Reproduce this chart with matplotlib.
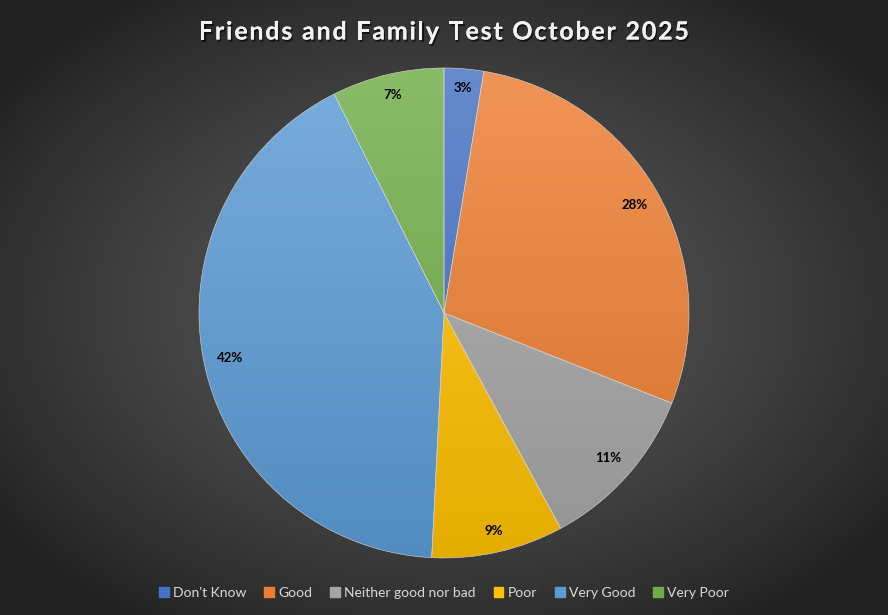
import numpy as np
import matplotlib
matplotlib.use('Agg')
import matplotlib.pyplot as plt
import matplotlib.patheffects as pe
from matplotlib.colors import to_rgb

labels = ["Don't Know", 'Good', 'Neither good nor bad', 'Poor', 'Very Good', 'Very Poor']
values = [2.6, 28.4, 11.1, 8.7, 41.8, 7.4]
colors = ['#4472C4', '#ED7D31', '#A5A5A5', '#FFC000', '#5B9BD5', '#70AD47']
title = 'Friends and Family Test October 2025'

plt.rcParams['font.family'] = ['Lato', 'DejaVu Sans']

W, H = 888, 615
fig = plt.figure(figsize=(W / 100, H / 100), dpi=100)

# radial background
bg = fig.add_axes([0, 0, 1, 1])
yy, xx = np.mgrid[0:H, 0:W]
d = np.sqrt(((xx - W / 2) / (W * 0.62)) ** 2 + ((yy - H * 0.5) / (H * 0.62)) ** 2)
shade = np.clip(0.33 - 0.2 * d ** 1.6, 0.13, 0.35)
bg.imshow(np.dstack([shade] * 3), extent=[0, 1, 0, 1], aspect='auto')
bg.set_axis_off()

cx, cy, r = 444, 615 - 313, 245
ax = fig.add_axes([(cx - r) / W, (cy - r) / H, 2 * r / W, 2 * r / H])
wedges, texts, autotexts = ax.pie(values, colors=colors, startangle=90, counterclock=False,
                                  autopct='%1.0f%%', pctdistance=0.87,
                                  wedgeprops=dict(edgecolor='#d8d8d8', linewidth=0.4),
                                  textprops=dict(color='black', fontsize=9.5, fontweight='bold'))
ax.set_xlim(-1, 1)
ax.set_ylim(-1, 1)

# vertical gradient for each slice
g = np.linspace(1, 0, 256)[:, None]
for w, c in zip(wedges, colors):
    base = np.array(to_rgb(c))
    top = base + (1 - base) * 0.18
    bot = base * 0.9
    img = bot[None, None, :] * (1 - g[..., None]) + top[None, None, :] * g[..., None]
    img = np.repeat(img, 2, axis=1)
    im = ax.imshow(img, extent=[-1, 1, -1, 1], aspect='auto', zorder=0.5)
    im.set_clip_path(w)
    w.set_facecolor('none')
    w.set_zorder(1)

# put labels "inside end" like excel: outer corner of text box at fixed radius
hw, hh, R0 = 0.053, 0.025, 0.95
for w, t in zip(wedges, autotexts):
    a = np.deg2rad((w.theta1 + w.theta2) / 2)
    u = np.array([np.cos(a), np.sin(a)])
    s = np.array([np.sign(u[0]) * hw, np.sign(u[1]) * hh])
    # |d*u + s| = R0
    b = 2 * u.dot(s)
    cc = s.dot(s) - R0 ** 2
    dist = (-b + np.sqrt(b * b - 4 * cc)) / 2
    t.set_position(dist * u)
    t.set_zorder(3)

# title with letter spacing, drawn char by char
renderer = fig.canvas.get_renderer()
tkw = dict(fontsize=18, fontweight='bold')
def txt_width(s):
    t = fig.text(0, 0, s, **tkw)
    wd = t.get_window_extent(renderer).width
    t.remove()
    return wd
full_w = txt_width(title)
bar_w = txt_width('|')
target_w = 490
sp = (target_w - full_w) / (len(title) - 1)
x0 = W / 2 - target_w / 2
shadow = [pe.withSimplePatchShadow(offset=(1, -1.5), shadow_rgbFace='black', alpha=0.6), pe.Normal()]
for i, ch in enumerate(title):
    if ch == ' ':
        continue
    xp = x0 + (txt_width(title[:i] + '|') - bar_w if i > 0 else 0) + i * sp
    fig.text(xp / W, 1 - 30 / H, ch, ha='left', va='center_baseline', color='#f2f2f2',
             path_effects=shadow, **tkw)

handles = [plt.Rectangle((0, 0), 1, 1, color=c) for c in colors]
fig.legend(handles, labels, loc='center', bbox_to_anchor=(0.5, 1 - 593 / H), ncol=6, frameon=False,
           fontsize=10, labelcolor='#d9d9d9', handlelength=0.7, handleheight=0.7,
           handletextpad=0.3, columnspacing=1.3)

fig.savefig('out.png', dpi=100)
